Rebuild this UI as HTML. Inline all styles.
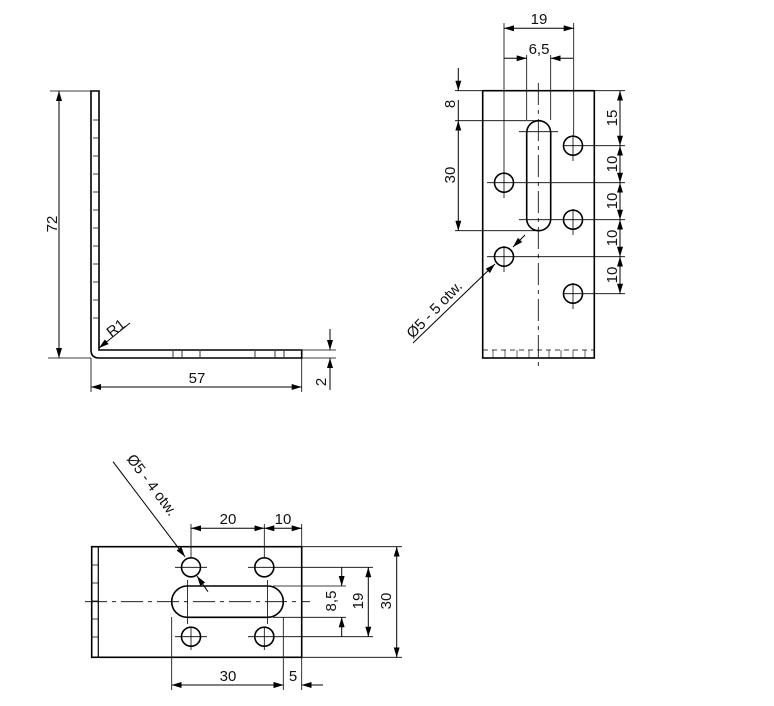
<!DOCTYPE html>
<html><head><meta charset="utf-8"><style>
html,body{margin:0;padding:0;background:#fff}
svg{display:block}
text{font-family:"Liberation Sans",sans-serif;font-size:15px;fill:#111}
</style></head><body>
<svg width="774" height="706" viewBox="0 0 774 706" xmlns="http://www.w3.org/2000/svg">
<defs>
<marker id="a" viewBox="0 0 10 6" refX="10" refY="3" markerWidth="10" markerHeight="6" markerUnits="userSpaceOnUse" orient="auto"><path d="M0,0L10,3L0,6z" fill="#000"/></marker>
</defs>
<g stroke="#000" fill="none" stroke-width="1">
<!-- VIEW 1 -->
<path d="M91,91 H99 V350 H301.7 V358 H99 Q91,358 91,350 Z" stroke-width="1.6"/>
<g stroke-width="0.8">
<path d="M93,120h5M93,138h5M93,156h5M93,174h5M93,192h5M93,210h5M93,228h5M93,246h5M93,264h5M93,282h5M93,300h5M93,318h5"/>
<path d="M173,351v6M182,351v6M200,351v6M255,351v6M275,351v6M284,351v6"/>
<path d="M50,91H91M48,358H91M91,358V392M301.7,358V392M302,350H336M302,358H336"/>
</g>
<line x1="59" y1="100" x2="59" y2="91" marker-end="url(#a)"/>
<line x1="59" y1="349" x2="59" y2="358" marker-end="url(#a)"/>
<line x1="59" y1="100" x2="59" y2="349"/>
<line x1="100" y1="387" x2="91" y2="387" marker-end="url(#a)"/>
<line x1="292" y1="387" x2="301.7" y2="387" marker-end="url(#a)"/>
<line x1="100" y1="387" x2="292" y2="387"/>
<line x1="330" y1="329" x2="330" y2="350" marker-end="url(#a)"/>
<line x1="330" y1="390" x2="330" y2="358" marker-end="url(#a)"/>
<line x1="130" y1="323" x2="99" y2="348" marker-end="url(#a)"/>

<!-- VIEW 2 -->
<rect x="482.7" y="90.7" width="111.6" height="267.3" stroke-width="1.6"/>
<path d="M483,350H594" stroke-width="0.8" stroke-dasharray="5,4"/>
<path d="M493,350v8M505,350v8M517,350v8M529,350v8M549,350v8M561,350v8M573,350v8M585,350v8" stroke-width="0.6"/>
<path d="M538.3,83V367" stroke-width="0.8" stroke-dasharray="22,5,4,5"/>
<rect x="526.7" y="120.7" width="24" height="110" rx="12" ry="12" stroke-width="1.6"/>
<g stroke-width="1.6">
<circle cx="573" cy="145.7" r="9.5"/><circle cx="504" cy="182.7" r="9.5"/><circle cx="573" cy="219.7" r="9.5"/><circle cx="504" cy="256.7" r="9.5"/><circle cx="573" cy="293.7" r="9.5"/>
</g>
<g stroke-width="0.8">
<path d="M563,145.7H625M487,182.7H625M519,219.7H625M487,256.7H625M563,293.7H625M519,131.7H558M594,90.7H625"/>
<path d="M573,135V161M504,172V198M573,209V235M504,246V272M573,283V309"/>
<path d="M504,23V172M573.7,23V135M526.7,55V120M550.7,55V120"/>
<path d="M455,90.7H482.7M455,120.7H538M455,230.7H538"/>
</g>
<line x1="515" y1="28.3" x2="504" y2="28.3" marker-end="url(#a)"/>
<line x1="563" y1="28.3" x2="573.7" y2="28.3" marker-end="url(#a)"/>
<line x1="515" y1="28.3" x2="563" y2="28.3"/>
<line x1="504" y1="58.3" x2="526.7" y2="58.3" marker-end="url(#a)"/>
<line x1="573" y1="58.3" x2="550.7" y2="58.3" marker-end="url(#a)"/>
<line x1="458.3" y1="68" x2="458.3" y2="90.7" marker-end="url(#a)"/>
<line x1="458.3" y1="175" x2="458.3" y2="120.7" marker-end="url(#a)"/>
<line x1="458.3" y1="175" x2="458.3" y2="230.7" marker-end="url(#a)"/>
<line x1="458.3" y1="120.7" x2="458.3" y2="100"/>
<g>
<line x1="620" y1="118" x2="620" y2="90.7" marker-end="url(#a)"/><line x1="620" y1="118" x2="620" y2="145.7" marker-end="url(#a)"/>
<line x1="620" y1="164" x2="620" y2="145.7" marker-end="url(#a)"/><line x1="620" y1="164" x2="620" y2="182.7" marker-end="url(#a)"/>
<line x1="620" y1="201" x2="620" y2="182.7" marker-end="url(#a)"/><line x1="620" y1="201" x2="620" y2="219.7" marker-end="url(#a)"/>
<line x1="620" y1="238" x2="620" y2="219.7" marker-end="url(#a)"/><line x1="620" y1="238" x2="620" y2="256.7" marker-end="url(#a)"/>
<line x1="620" y1="275" x2="620" y2="256.7" marker-end="url(#a)"/><line x1="620" y1="275" x2="620" y2="293.7" marker-end="url(#a)"/>
</g>
<line x1="413" y1="343" x2="495" y2="264" marker-end="url(#a)"/>
<line x1="525" y1="235" x2="513" y2="247" marker-end="url(#a)"/>

<!-- VIEW 3 -->
<rect x="91.7" y="546.7" width="210" height="110.6" stroke-width="1.6"/>
<path d="M98.3,547V657" stroke-width="1.2"/>
<path d="M92,565h6M92,583h6M92,601h6M92,619h6M92,637h6" stroke-width="0.8"/>
<path d="M85,601.7H310" stroke-width="0.8" stroke-dasharray="22,5,4,5"/>
<rect x="171.7" y="586" width="111.6" height="31.3" rx="15.6" ry="15.6" stroke-width="1.6"/>
<g stroke-width="1.6">
<circle cx="191" cy="567.3" r="9.5"/><circle cx="264.3" cy="567.3" r="9.5"/><circle cx="191" cy="636.7" r="9.5"/><circle cx="264.3" cy="636.7" r="9.5"/>
</g>
<g stroke-width="0.8">
<path d="M175,567.3H207M248,567.3H373M175,636.7H207M248,636.7H373M187.4,580V624M267.6,580V624"/>
<path d="M191,524V557M191,627V650M264.3,524V557M264.3,627V650M301.7,524V547"/>
<path d="M273,586H346M273,617.3H346M301.7,546.7H402M301.7,657.3H402"/>
<path d="M171.7,617V690M283.3,617V690M301.7,657V690"/>
</g>
<line x1="228" y1="528.3" x2="191" y2="528.3" marker-end="url(#a)"/>
<line x1="228" y1="528.3" x2="264.3" y2="528.3" marker-end="url(#a)"/>
<line x1="283" y1="528.3" x2="264.3" y2="528.3" marker-end="url(#a)"/>
<line x1="283" y1="528.3" x2="301.7" y2="528.3" marker-end="url(#a)"/>
<line x1="341.7" y1="567.3" x2="341.7" y2="586" marker-end="url(#a)"/>
<line x1="341.7" y1="636.7" x2="341.7" y2="617.3" marker-end="url(#a)"/>
<line x1="368.3" y1="601" x2="368.3" y2="567.3" marker-end="url(#a)"/>
<line x1="368.3" y1="601" x2="368.3" y2="636.7" marker-end="url(#a)"/>
<line x1="396.7" y1="601" x2="396.7" y2="546.7" marker-end="url(#a)"/>
<line x1="396.7" y1="601" x2="396.7" y2="657.3" marker-end="url(#a)"/>
<line x1="228" y1="685" x2="171.7" y2="685" marker-end="url(#a)"/>
<line x1="228" y1="685" x2="283.3" y2="685" marker-end="url(#a)"/>
<line x1="323" y1="685" x2="301.7" y2="685" marker-end="url(#a)"/>
<line x1="262" y1="685" x2="283.3" y2="685" marker-end="url(#a)"/>
<line x1="113" y1="461.7" x2="185" y2="556.7" marker-end="url(#a)"/>
<line x1="208" y1="591.7" x2="197" y2="576" marker-end="url(#a)"/>
</g>
<!-- labels -->
<text x="57" y="224" text-anchor="middle" transform="rotate(-90 57 224)">72</text>
<text x="197" y="383" text-anchor="middle">57</text>
<text x="326" y="382" text-anchor="middle" transform="rotate(-90 326 382)">2</text>
<text x="119" y="332" text-anchor="middle" transform="rotate(-38 119 332)">R1</text>
<text x="539" y="24" text-anchor="middle">19</text>
<text x="539" y="54" text-anchor="middle">6,5</text>
<text x="455" y="104" text-anchor="middle" transform="rotate(-90 455 104)">8</text>
<text x="455" y="175" text-anchor="middle" transform="rotate(-90 455 175)">30</text>
<text x="617" y="118" text-anchor="middle" transform="rotate(-90 617 118)">15</text>
<text x="617" y="164" text-anchor="middle" transform="rotate(-90 617 164)">10</text>
<text x="617" y="201" text-anchor="middle" transform="rotate(-90 617 201)">10</text>
<text x="617" y="238" text-anchor="middle" transform="rotate(-90 617 238)">10</text>
<text x="617" y="275" text-anchor="middle" transform="rotate(-90 617 275)">10</text>
<text x="438" y="313" text-anchor="middle" transform="rotate(-46 438 313)">Ø5 - 5 otw.</text>
<text x="148" y="488" text-anchor="middle" transform="rotate(53 148 488)">Ø5 - 4 otw.</text>
<text x="228" y="524" text-anchor="middle">20</text>
<text x="283" y="524" text-anchor="middle">10</text>
<text x="336" y="601" text-anchor="middle" transform="rotate(-90 336 601)">8,5</text>
<text x="363" y="601" text-anchor="middle" transform="rotate(-90 363 601)">19</text>
<text x="391" y="601" text-anchor="middle" transform="rotate(-90 391 601)">30</text>
<text x="228" y="681" text-anchor="middle">30</text>
<text x="293" y="681" text-anchor="middle">5</text>
</svg>
</body></html>
